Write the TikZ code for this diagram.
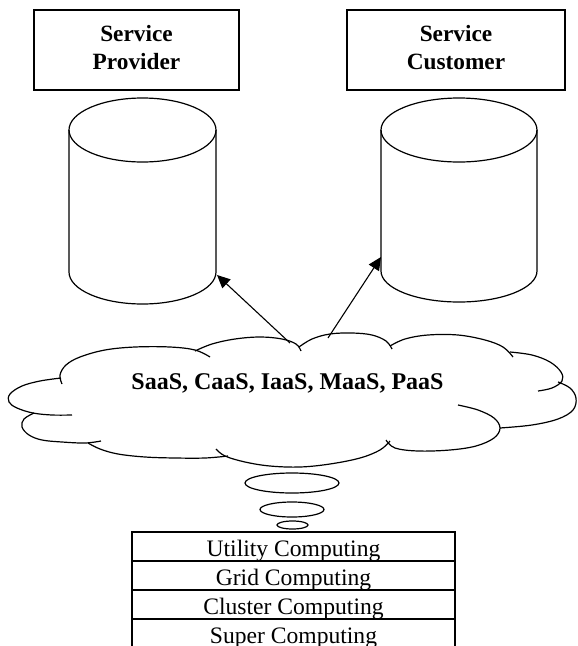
\documentclass[tikz,border=0pt]{standalone}
\usepackage{fontspec}
\setmainfont{Liberation Serif}
\usetikzlibrary{arrows.meta}
\begin{document}
\begin{tikzpicture}[x=1pt,y=-1pt,line width=1.2pt,
  topbox/.style={draw, line width=1.3pt, minimum height=80pt, inner sep=0pt, align=center,
    font=\bfseries\fontsize{23.3}{28}\selectfont},
  cloudline/.style={line width=1.2pt},
  bubble/.style={line width=1.2pt},
  tablerow/.style={draw, line width=1.8pt, minimum width=323pt, minimum height=29pt, inner sep=0pt,
    text height=24pt, text depth=5pt, font=\fontsize{23.6}{28}\selectfont},
  arr/.style={line width=1.1pt, -{Triangle[length=13pt,width=12pt]}}]
\useasboundingbox (0,0) rectangle (578,646);

% top boxes
\node[topbox, minimum width=205pt] (prov) at (136.5,50) {Service\\Provider\rule[-6pt]{0pt}{6pt}};
\node[topbox, minimum width=218pt] (cust) at (456,50) {Service\\Customer\rule[-6pt]{0pt}{6pt}};

% cylinders
\draw (142.5,130) ellipse [x radius=73.5pt, y radius=32pt];
\draw (69,130) -- (69,272) arc [start angle=180, end angle=360, x radius=73.5pt, y radius=32pt] -- (216,130);
\draw (459,130) ellipse [x radius=78pt, y radius=32pt];
\draw (381,130) -- (381,271) arc [start angle=180, end angle=360, x radius=78pt, y radius=31pt] -- (537,130);
\coordinate (cylA) at (217,275);
\coordinate (cylB) at (381,257);

% cloud
\begin{scope}[cloudline]
\draw plot[smooth, tension=0.6] coordinates {(62,384) (60,375) (66,365) (80,357) (105,350) (135,347) (170,347) (195,350) (210,357)};
\draw plot[smooth, tension=0.6] coordinates {(195,351) (212,344) (235,339) (260,337) (282,339) (296,344) (301,351)};
\draw plot[smooth, tension=0.6] coordinates {(299,347) (312,339) (330,334) (352,333) (372,335) (386,341) (392,349)};
\draw plot[smooth, tension=0.6] coordinates {(390,346) (405,339) (428,335) (458,335) (485,340) (503,347) (513,357)};
\draw plot[smooth, tension=0.6] coordinates {(510,352) (532,355) (550,362) (561,372) (562,381) (552,388) (538,391)};
\draw plot[smooth, tension=0.6] coordinates {(558,382) (570,388) (576,398) (573,410) (558,419) (532,425) (500,428)};
\draw plot[smooth, tension=0.6] coordinates {(458,405) (478,410) (494,418) (500,428) (494,438) (476,446) (450,450) (418,451) (395,448) (386,440)};
\draw plot[smooth, tension=0.6] coordinates {(390,441) (380,450) (360,458) (330,464) (300,467) (270,466) (245,462) (225,456) (216,449)};
\draw plot[smooth, tension=0.6] coordinates {(88,443) (100,449) (118,454) (145,457) (175,458) (205,458) (228,456)};
\draw plot[smooth, tension=0.6] coordinates {(101,441) (85,443) (62,442) (42,440) (29,435) (22,427) (24,419) (34,413)};
\draw plot[smooth, tension=0.6] coordinates {(61,378) (40,381) (22,386) (10,394) (9,402) (17,408) (33,413) (52,415) (72,415)};
\end{scope}
\node[font=\bfseries\fontsize{24}{28}\selectfont, anchor=base, inner sep=0pt] (svc) at (287.5,389) {SaaS, CaaS, IaaS, MaaS, PaaS};
\coordinate (cloudA) at (290,343);
\coordinate (cloudB) at (328,338);

% arrows
\draw[arr] (cloudA) -- (cylA);
\draw[arr] (cloudB) -- (cylB);

% thought bubbles
\draw[bubble] (292,483) ellipse [x radius=47pt, y radius=10pt];
\draw[bubble] (292,509.5) ellipse [x radius=32pt, y radius=7.5pt];
\draw[bubble] (292.5,525) ellipse [x radius=15.5pt, y radius=4pt];

% table
\node[tablerow] (r1) at (293.5,546.5) {Utility Computing};
\node[tablerow] (r2) at (293.5,575.5) {Grid Computing};
\node[tablerow] (r3) at (293.5,604.5) {Cluster Computing};
\node[tablerow] (r4) at (293.5,633.5) {Super Computing};
\end{tikzpicture}
\end{document}
